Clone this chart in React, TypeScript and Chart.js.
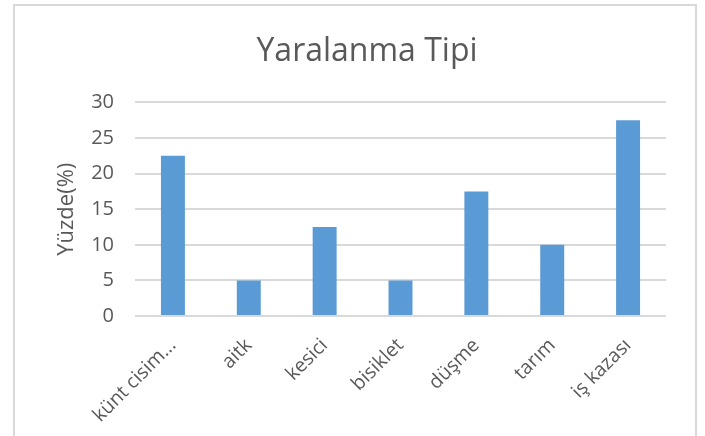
import React, { useEffect, useRef } from "react";
import { Chart, registerables } from "chart.js";

Chart.register(...registerables);

const categories = ["künt cisim...", "aitk", "kesici", "bisiklet", "düşme", "tarım", "iş kazası"];
const values = [22.5, 5, 12.5, 5, 17.5, 10, 27.5];
const yTickMin = 0;
const yTickMax = 30;
const yTickStep = 5;
const chartTitle = "Yaralanma Tipi";
const yAxisTitle = "Yüzde(%)";

const FONT = "'Open Sans', 'Noto Sans', sans-serif";
const TEXT = "#595959";
const GRID = "#d9d9d9";
const BAR = "#5b9bd5";

export default function App() {
  const ref = useRef<HTMLCanvasElement | null>(null);

  useEffect(() => {
    if (!ref.current) return;
    const chart = new Chart(ref.current, {
      type: "bar",
      data: {
        labels: categories,
        datasets: [
          {
            data: values,
            backgroundColor: BAR,
            borderWidth: 0,
            categoryPercentage: 1,
            barPercentage: 0.316,
          },
        ],
      },
      options: {
        responsive: false,
        animation: false,
        devicePixelRatio: 1,
        layout: { padding: { left: 0, right: 11, top: 0, bottom: 0 } },
        plugins: {
          legend: { display: false },
          tooltip: { enabled: false },
          title: {
            display: true,
            text: chartTitle,
            color: TEXT,
            font: { family: FONT, size: 32, weight: "normal" },
            padding: { top: 33, bottom: 31 },
          },
        },
        scales: {
          x: {
            grid: { display: false, drawTicks: false },
            border: { display: false },
            ticks: {
              color: TEXT,
              font: { family: FONT, size: 19.5 },
              minRotation: 45,
              maxRotation: 45,
              autoSkip: false,
              padding: 18,
            },
            afterFit: (s: any) => {
              s.height = 120;
            },
          },
          y: {
            min: yTickMin,
            max: yTickMax,
            grid: { color: GRID, lineWidth: 2, drawTicks: false },
            border: { display: false },
            ticks: {
              stepSize: yTickStep,
              color: TEXT,
              font: { family: FONT, size: 20 },
              padding: 21,
            },
            title: {
              display: true,
              text: yAxisTitle,
              color: TEXT,
              font: { family: FONT, size: 22 },
              padding: { top: 14, bottom: 0 },
            },
            afterFit: (s: any) => {
              s.width = 95;
            },
          },
          y2: {
            position: "right",
            display: true,
            grid: { display: false, drawTicks: false },
            border: { display: false },
            ticks: { display: false },
            afterFit: (s: any) => {
              s.width = 28;
            },
          },
        },
      },
    });
    return () => chart.destroy();
  }, []);

  return (
    <div
      style={{
        position: "fixed",
        left: 0,
        top: 0,
        width: 705,
        height: 436,
        overflow: "hidden",
        background: "#ffffff",
      }}
    >
      <div
        style={{
          position: "absolute",
          left: 13,
          top: 4,
          width: 680,
          height: 500,
          border: "2px solid #d9d9d9",
        }}
      />
      <canvas
        ref={ref}
        width={665}
        height={436}
        style={{ position: "absolute", left: 40, top: 0, width: 665, height: 436, display: "block" }}
      />
    </div>
  );
}
